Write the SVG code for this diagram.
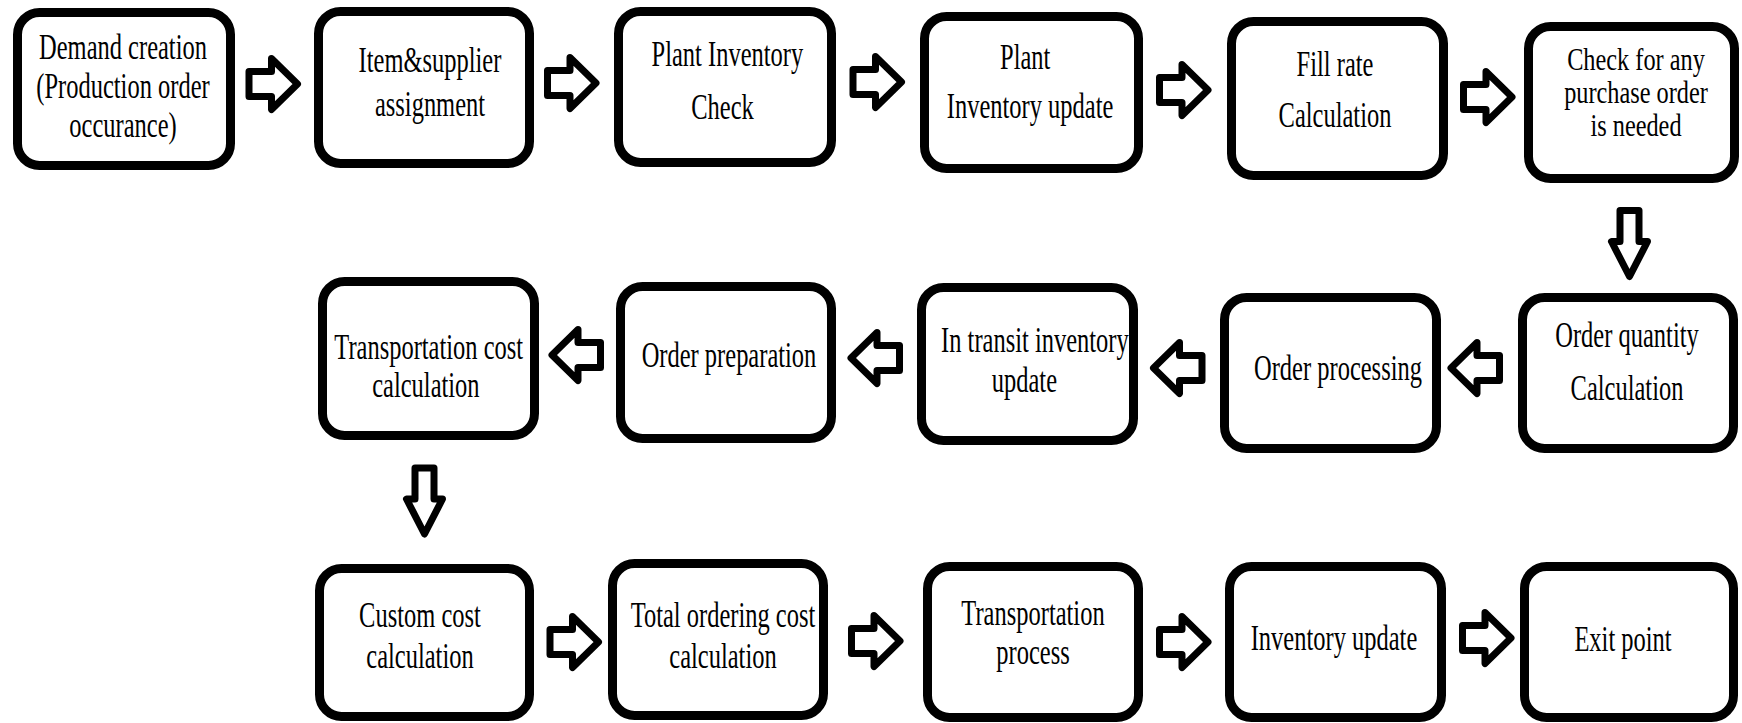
<svg xmlns="http://www.w3.org/2000/svg" xmlns:xlink="http://www.w3.org/1999/xlink" width="1742" height="723" viewBox="0 0 1742 723">
<style>
.box{fill:#fff;stroke:#000;stroke-width:9}
.t{font-family:"Liberation Serif","Times New Roman","DejaVu Serif",serif;font-size:35px;fill:#000;text-anchor:middle}
.s{font-size:32px}
.arr{fill:#fff;stroke:#000;stroke-width:7;stroke-linejoin:round}
</style>
<defs>
<path id="ar" class="arr" d="M -24.5,-12.5 H -2 V -25.5 L 24,0 L -2,25.5 V 12.5 H -24.5 Z"/>
<path id="ad" class="arr" d="M -9.5,-33 H 9.5 V -2 H 18 L 0,33 L -18,-2 H -9.5 Z"/>
</defs>
<rect width="1742" height="723" fill="#fff"/>
<g id="connectors">
<use xlink:href="#ar" transform="translate(273.5 84)"/>
<use xlink:href="#ar" transform="translate(572 83)"/>
<use xlink:href="#ar" transform="translate(877.5 82)"/>
<use xlink:href="#ar" transform="translate(1184 90)"/>
<use xlink:href="#ar" transform="translate(1488 97)"/>
<use xlink:href="#ad" transform="translate(1629.5 243.5)"/>
<use xlink:href="#ar" transform="translate(1475 368) scale(-1 1)"/>
<use xlink:href="#ar" transform="translate(1177.5 368) scale(-1 1)"/>
<use xlink:href="#ar" transform="translate(875 358) scale(-1 1)"/>
<use xlink:href="#ar" transform="translate(576 355) scale(-1 1)"/>
<use xlink:href="#ad" transform="translate(424.5 501)"/>
<use xlink:href="#ar" transform="translate(574.5 642)"/>
<use xlink:href="#ar" transform="translate(876 641)"/>
<use xlink:href="#ar" transform="translate(1184 642)"/>
<use xlink:href="#ar" transform="translate(1487 638)"/>
</g>
<g id="n1"><rect class="box" x="17.5" y="12.5" width="213" height="153" rx="22"/>
<text class="t" transform="matrix(0.7 0 0 1 123 0)"><tspan x="0" y="59">Demand creation</tspan><tspan x="0" y="98">(Production order</tspan><tspan x="0" y="137">occurance)</tspan></text></g>
<g id="n2"><rect class="box" x="318.5" y="11.5" width="211" height="152" rx="22"/>
<text class="t" transform="matrix(0.7 0 0 1 430 0)"><tspan x="0" y="72">Item&amp;supplier</tspan><tspan x="0" y="116">assignment</tspan></text></g>
<g id="n3"><rect class="box" x="618.5" y="11.5" width="213" height="151" rx="22"/>
<text class="t" transform="matrix(0.7 0 0 1 726 0)"><tspan x="2" y="66">Plant Inventory</tspan><tspan x="-5" y="119">Check</tspan></text></g>
<g id="n4"><rect class="box" x="924.5" y="16.5" width="214" height="152" rx="22"/>
<text class="t" transform="matrix(0.7 0 0 1 1028 0)"><tspan x="-4" y="69">Plant</tspan><tspan x="3" y="118">Inventory update</tspan></text></g>
<g id="n5"><rect class="box" x="1231.5" y="21.5" width="212" height="154" rx="22"/>
<text class="t" transform="matrix(0.7 0 0 1 1335 0)"><tspan x="0" y="76">Fill rate</tspan><tspan x="0" y="127">Calculation</tspan></text></g>
<g id="n6"><rect class="box" x="1528.5" y="26.5" width="206" height="152" rx="22"/>
<text class="t s" transform="matrix(0.76 0 0 1 1636 0)"><tspan x="0" y="70">Check for any</tspan><tspan x="0" y="103">purchase order</tspan><tspan x="0" y="136">is needed</tspan></text></g>
<g id="n7"><rect class="box" x="322.5" y="281.5" width="212" height="154" rx="22"/>
<text class="t" transform="matrix(0.7 0 0 1 428 0)"><tspan x="1" y="359">Transportation cost</tspan><tspan x="-3" y="397">calculation</tspan></text></g>
<g id="n8"><rect class="box" x="620.5" y="286.5" width="211" height="152" rx="22"/>
<text class="t" transform="matrix(0.7 0 0 1 729 0)"><tspan x="0" y="367">Order preparation</tspan></text></g>
<g id="n9"><rect class="box" x="921.5" y="287.5" width="212" height="153" rx="22"/>
<text class="t" transform="matrix(0.7 0 0 1 1030 0)"><tspan x="7" y="352">In transit inventory</tspan><tspan x="-8" y="392">update</tspan></text></g>
<g id="n10"><rect class="box" x="1224.5" y="297.5" width="212" height="151" rx="22"/>
<text class="t" transform="matrix(0.7 0 0 1 1338 0)"><tspan x="0" y="380">Order processing</tspan></text></g>
<g id="n11"><rect class="box" x="1522.5" y="297.5" width="211" height="151" rx="22"/>
<text class="t" transform="matrix(0.7 0 0 1 1627 0)"><tspan x="0" y="347">Order quantity</tspan><tspan x="0" y="400">Calculation</tspan></text></g>
<g id="n12"><rect class="box" x="319.5" y="568.5" width="210" height="148" rx="22"/>
<text class="t" transform="matrix(0.7 0 0 1 420 0)"><tspan x="0" y="627">Custom cost</tspan><tspan x="0" y="668">calculation</tspan></text></g>
<g id="n13"><rect class="box" x="612.5" y="563.5" width="211" height="152" rx="22"/>
<text class="t" transform="matrix(0.7 0 0 1 723 0)"><tspan x="0" y="627">Total ordering cost</tspan><tspan x="0" y="668">calculation</tspan></text></g>
<g id="n14"><rect class="box" x="927.5" y="566.5" width="211" height="151" rx="22"/>
<text class="t" transform="matrix(0.7 0 0 1 1033 0)"><tspan x="0" y="625">Transportation</tspan><tspan x="0" y="664">process</tspan></text></g>
<g id="n15"><rect class="box" x="1229.5" y="566.5" width="212" height="151" rx="22"/>
<text class="t" transform="matrix(0.7 0 0 1 1334 0)"><tspan x="0" y="650">Inventory update</tspan></text></g>
<g id="n16"><rect class="box" x="1524.5" y="566.5" width="209" height="151" rx="22"/>
<text class="t" transform="matrix(0.7 0 0 1 1623 0)"><tspan x="0" y="651">Exit point</tspan></text></g>
</svg>
